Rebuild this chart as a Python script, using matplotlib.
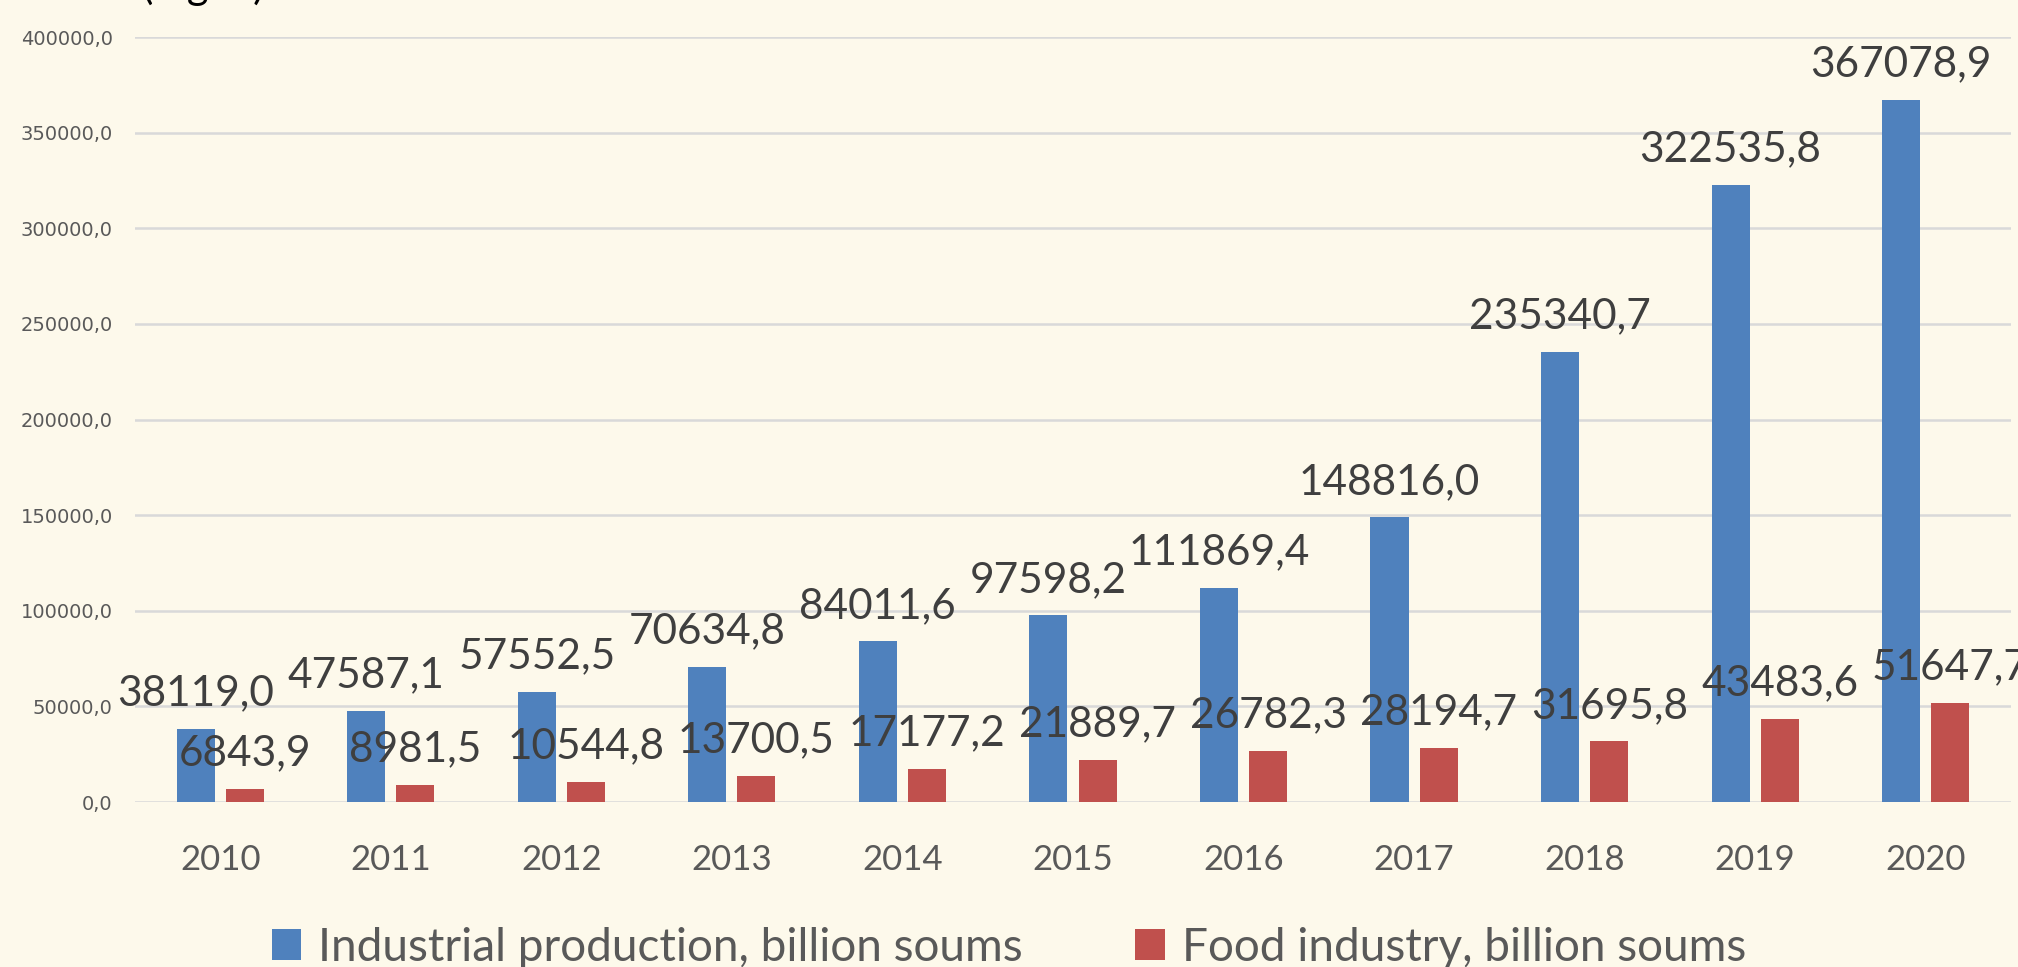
import numpy as np
import matplotlib
matplotlib.use('Agg')
import matplotlib.pyplot as plt

years = ['2010', '2011', '2012', '2013', '2014', '2015',
         '2016', '2017', '2018', '2019', '2020']
industrial = [38119.0, 47587.1, 57552.5, 70634.8, 84011.6, 97598.2,
              111869.4, 148816.0, 235340.7, 322535.8, 367078.9]
food = [6843.9, 8981.5, 10544.8, 13700.5, 17177.2, 21889.7,
        26782.3, 28194.7, 31695.8, 43483.6, 51647.7]
y_ticks = [0, 50000, 100000, 150000, 200000, 250000, 300000, 350000, 400000]
series_names = ['Industrial production, billion soums', 'Food industry, billion soums']

bg = '#FDF9EB'
blue = '#4F81BD'
red = '#C0504D'

def comma(v):
    return f'{v:.1f}'.replace('.', ',')

fig = plt.figure(figsize=(20.18, 9.67), dpi=100, facecolor=bg)
ax = fig.add_axes([0.0669, 0.1706, 0.9296, 0.7911], facecolor=bg)

x = np.arange(len(years))
w = 0.223
off = 0.144
b1 = ax.bar(x - off, industrial, w, color=blue, label=series_names[0], zorder=2)
b2 = ax.bar(x + off, food, w, color=red, label=series_names[1], zorder=2)

# value labels above the bars
for bars, vals in [(b1, industrial), (b2, food)]:
    for rect, v in zip(bars, vals):
        ax.annotate(comma(v), (rect.get_x() + rect.get_width() / 2, v),
                    xytext=(0, 17), textcoords='offset points',
                    ha='center', va='baseline', fontsize=30.5,
                    family='Lato', color='#3F3F3F', zorder=5)

ax.set_xlim(-0.5, len(years) - 0.5)
ax.set_ylim(0, 400000)
ax.set_yticks(y_ticks)
ax.set_yticklabels([comma(t) for t in y_ticks], fontsize=14,
                   family='DejaVu Sans', color='#595959')
ax.set_xticks(x)
ax.set_xticklabels(years, fontsize=25, family='Lato', color='#595959')
ax.tick_params(axis='both', length=0)
ax.tick_params(axis='x', pad=30)
ax.tick_params(axis='y', pad=16)
ax.grid(axis='y', color='#D9D9D9', linewidth=1.8, zorder=0)
ax.set_axisbelow(True)
for s in ax.spines.values():
    s.set_visible(False)

fig.legend(loc='center', bbox_to_anchor=(0.5, 0.02), ncol=2, frameon=False,
           prop={'family': 'Lato', 'size': 33}, labelcolor='#595959',
           handlelength=0.65, handleheight=0.65, handletextpad=0.37,
           columnspacing=2.45)

# title line above the chart, mostly cut off by the top edge
fig.text(-0.038, 1 + 1 / 967, '2010-2020 (Fig. 1).', fontsize=30,
         family='Lato', color='black', ha='left', va='baseline')

fig.savefig('out.png', dpi=100, facecolor=bg)
